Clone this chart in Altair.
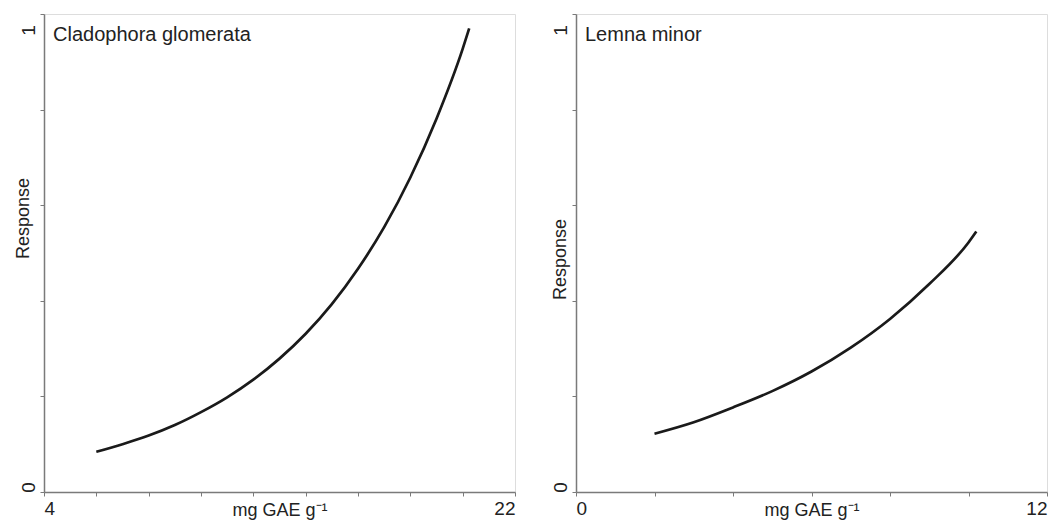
import altair as alt
import pandas as pd

# Fitted response curves (response vs. phenolic content, mg GAE per g)
clad_x = [6, 7, 8, 9, 10, 11, 12, 13, 14, 15, 16, 17, 18, 19, 20, 20.25]
clad_y = [0.084, 0.100, 0.118, 0.140, 0.167, 0.198, 0.235, 0.279, 0.331,
          0.393, 0.467, 0.554, 0.658, 0.781, 0.927, 0.970]

lemna_x = [2, 3, 4, 5, 6, 7, 8, 9, 10, 10.2]
lemna_y = [0.122, 0.146, 0.177, 0.211, 0.252, 0.302, 0.362, 0.435, 0.522, 0.545]

species = ["Cladophora glomerata", "Lemna minor"]

clad_ticks = [4, 6, 8, 10, 12, 14, 16, 18, 20, 22]
lemna_ticks = [0, 2, 4, 6, 8, 10, 12]
resp_ticks = [0, 0.2, 0.4, 0.6, 0.8, 1]

FONT = "Liberation Sans"
INK = "#222222"
AXIS_GREY = "#7a7a7a"


def panel(xs, ys, ticks, name, ytitle_x, ytitle_y):
    df = pd.DataFrame({"x": xs, "y": ys})
    lo, hi = ticks[0], ticks[-1]
    x_axis = alt.Axis(
        values=ticks,
        format="~g",
        labelExpr=f"datum.value == {lo} || datum.value == {hi} ? datum.label : ''",
        labelFlush=True,
        labelPadding=3,
        labelFontSize=19,
        labelColor=INK,
        tickSize=4,
        tickColor=AXIS_GREY,
        domainColor=AXIS_GREY,
        domainWidth=1.5,
        grid=False,
        title="mg GAE g⁻¹",
        titleFontSize=18,
        titleFontWeight="normal",
        titleColor=INK,
        titleBaseline="alphabetic",
        titleY=23,
    )
    y_axis = alt.Axis(
        values=resp_ticks,
        format="~g",
        labelExpr="datum.value == 0 || datum.value == 1 ? datum.label : ''",
        labelAngle=270,
        labelAlign="center",
        labelBaseline="bottom",
        labelOffset={"condition": {"test": "datum.value == 1", "value": 16}, "value": -5},
        labelPadding=2,
        labelFontSize=19,
        labelColor=INK,
        tickSize=4,
        tickColor=AXIS_GREY,
        domainColor=AXIS_GREY,
        domainWidth=1.5,
        grid=False,
        title="Response",
        titleAngle=270,
        titleAlign="center",
        titleBaseline="middle",
        titleX=ytitle_x,
        titleY=ytitle_y,
        titleFontSize=18,
        titleFontWeight="normal",
        titleColor=INK,
    )
    curve = alt.Chart(df).mark_line(
        color="#1a1a1a", strokeWidth=2.7, interpolate="monotone"
    ).encode(
        x=alt.X("x:Q", scale=alt.Scale(domain=[lo, hi], nice=False, zero=False), axis=x_axis),
        y=alt.Y("y:Q", scale=alt.Scale(domain=[0, 1], nice=False), axis=y_axis),
    )
    # species name in the upper-left corner of the panel
    label = alt.Chart(pd.DataFrame({"name": [name]})).mark_text(
        align="left", baseline="top", fontSize=20, color=INK, font=FONT
    ).encode(
        x=alt.value(9),
        y=alt.value(11),
        text="name:N",
    )
    return alt.layer(curve, label).properties(width=471, height=478)


left = panel(clad_x, clad_y, clad_ticks, species[0], -21, 204)
right = panel(lemna_x, lemna_y, lemna_ticks, species[1], -16, 245)

chart = (
    alt.hconcat(left, right, spacing=34)
    .properties(padding={"left": 13, "top": 13, "right": 0, "bottom": 0}, background="white")
    .configure_view(stroke="#999999", strokeWidth=1.2)
    .configure(font=FONT)
)

chart.save("out.html", embed_options={"renderer": "svg", "actions": False})
